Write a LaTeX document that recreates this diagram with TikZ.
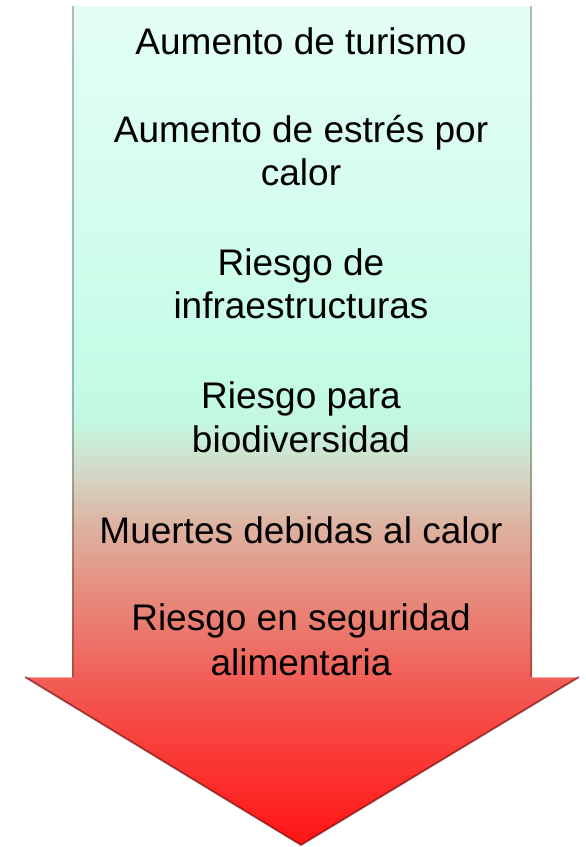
\documentclass[tikz,border=0pt]{standalone}
\usepackage{fontspec}
\setmainfont{Liberation Sans}
\pgfdeclareverticalshading{arrowshade}{100bp}{%
  color(0bp)=(rgb,255:red,255;green,20;blue,20);
  color(25bp)=(rgb,255:red,255;green,20;blue,20);
  color(30bp)=(rgb,255:red,250;green,55;blue,52);
  color(35bp)=(rgb,255:red,242;green,95;blue,88);
  color(40bp)=(rgb,255:red,230;green,140;blue,125);
  color(44bp)=(rgb,255:red,222;green,178;blue,160);
  color(47bp)=(rgb,255:red,212;green,214;blue,196);
  color(50bp)=(rgb,255:red,196;green,246;blue,224);
  color(53bp)=(rgb,255:red,196;green,252;blue,230);
  color(64bp)=(rgb,255:red,214;green,253;blue,238);
  color(75bp)=(rgb,255:red,228;green,254;blue,247);
  color(100bp)=(rgb,255:red,228;green,254;blue,247)}
\begin{document}
\begin{tikzpicture}[x=1pt,y=-1pt,
  lbl/.style={anchor=base,inner sep=0pt,font=\fontsize{37}{43}\selectfont,text=black}]
\useasboundingbox (0,0) rectangle (586,847);
\coordinate (tl) at (72,6);
\coordinate (tr) at (532,6);
\coordinate (sr) at (532,677);
\coordinate (hr) at (579,677);
\coordinate (tip) at (301,845);
\coordinate (hl) at (25,677);
\coordinate (sl) at (72,677);
\shade[shading=arrowshade] (tl) -- (tr) -- (sr) -- (hr) -- (tip) -- (hl) -- (sl) -- cycle;
% bevel effects
\draw[line width=3pt, color=white, opacity=0.55] ([yshift=2pt]tl) -- ([yshift=2pt]tr);
\draw[line width=2.5pt, color=black, opacity=0.25] ([xshift=1.2pt]tl) -- ([xshift=1.2pt]sl);
\draw[line width=2.5pt, color=black, opacity=0.25] ([xshift=-1.2pt]tr) -- ([xshift=-1.2pt]sr);
\draw[line width=1.5pt, color=white, opacity=0.45] (hl) -- (sl);
\draw[line width=1.5pt, color=white, opacity=0.45] (sr) -- (hr);
\draw[line width=1.8pt, color=black!60!red, opacity=0.6] (hl) -- (tip) -- (hr);
% texts
\node[lbl] (a1) at (301,54) {Aumento de turismo};
\node[lbl] (b1) at (301,142) {Aumento de estrés por};
\node[lbl] (b2) at (301,185) {calor};
\node[lbl] (c1) at (301,275) {Riesgo de};
\node[lbl] (c2) at (301,318) {infraestructuras};
\node[lbl] (d1) at (301,408) {Riesgo para};
\node[lbl] (d2) at (301,452) {biodiversidad};
\node[lbl] (e1) at (301,543) {Muertes debidas al calor};
\node[lbl] (f1) at (301,630) {Riesgo en seguridad};
\node[lbl] (f2) at (301,675) {alimentaria};
\end{tikzpicture}
\end{document}
